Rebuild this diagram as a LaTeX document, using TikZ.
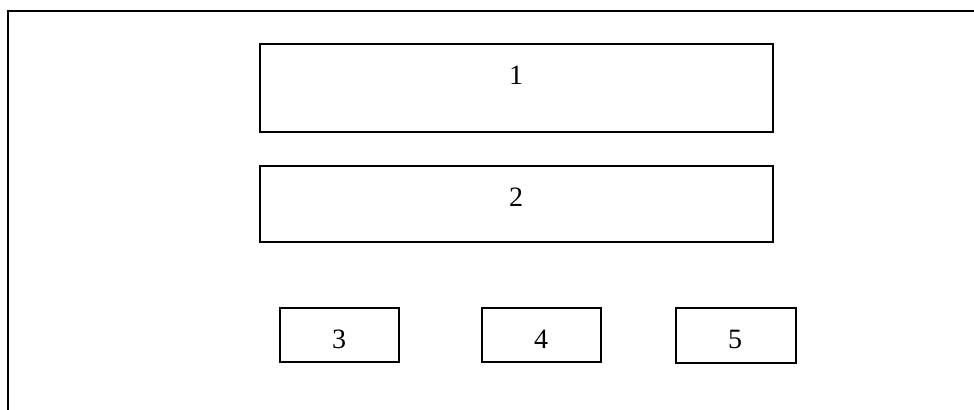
\documentclass[tikz,border=0pt]{standalone}
\usepackage{fontspec}
\setmainfont{Liberation Serif}
\begin{document}
\begin{tikzpicture}[x=0.75pt,y=-0.75pt,
  box/.style={draw=black,line width=1.6pt,rectangle,inner sep=0pt},
  lbl/.style={inner sep=0pt,font=\fontsize{21}{25}\selectfont}]
\useasboundingbox (0,0) rectangle (974,410);
\coordinate (fbl) at (8,411);
\coordinate (ftl) at (8,11);
\coordinate (ftr) at (975,11);
\draw[line width=1.6pt] (fbl) -- (ftl) -- (ftr);
\node[box,minimum width=513*0.75pt,minimum height=88*0.75pt] (b1) at (516.5,88) {};
\node[lbl] (t1) at (516,75) {1};
\node[box,minimum width=513*0.75pt,minimum height=76*0.75pt] (b2) at (516.5,204) {};
\node[lbl] (t2) at (516,197) {2};
\node[box,minimum width=119*0.75pt,minimum height=54*0.75pt] (b3) at (339.5,335) {};
\node[lbl] (t3) at (339,339) {3};
\node[box,minimum width=119*0.75pt,minimum height=54*0.75pt] (b4) at (541.5,335) {};
\node[lbl] (t4) at (541,339) {4};
\node[box,minimum width=120*0.75pt,minimum height=55*0.75pt] (b5) at (736,335.5) {};
\node[lbl] (t5) at (735,339) {5};
\end{tikzpicture}
\end{document}
